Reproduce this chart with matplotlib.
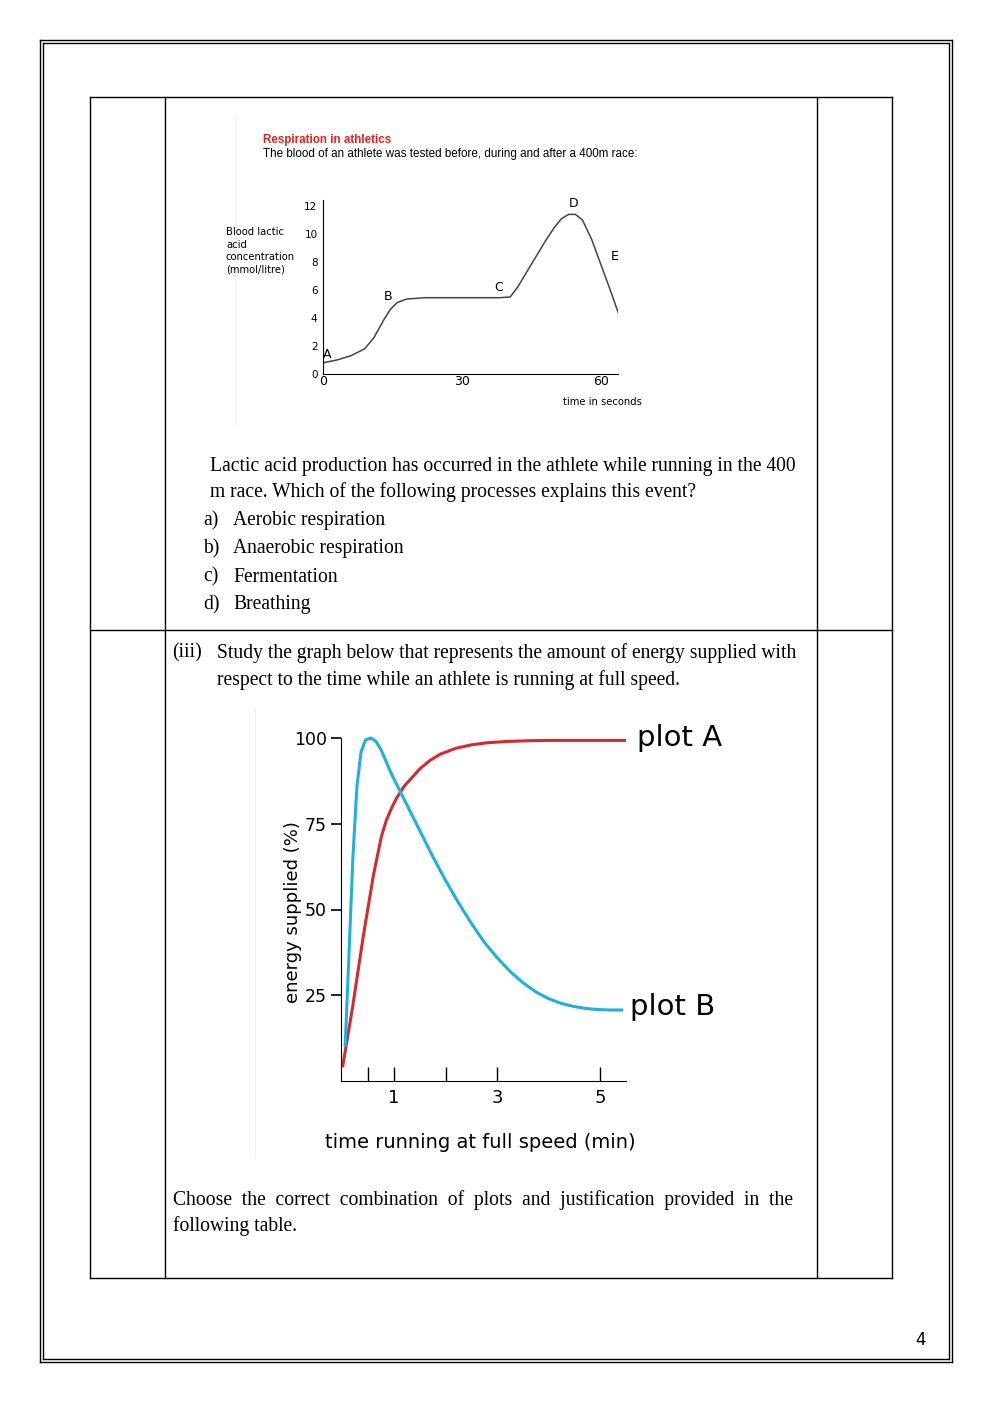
import matplotlib
matplotlib.use("Agg")
import matplotlib.pyplot as plt
from matplotlib.lines import Line2D

W, H = 992, 1403
# ---- data ----
lactic_t = [0, 3, 6, 9, 11, 13, 14.5, 16, 18, 22, 28, 34, 38, 40.4, 42, 44, 46, 48, 50, 51.5, 53, 54.5, 56, 58, 60, 62, 63.7]
lactic_v = [0.8, 1.0, 1.3, 1.8, 2.6, 3.8, 4.6, 5.1, 5.35, 5.45, 5.45, 5.45, 5.45, 5.5, 6.2, 7.3, 8.4, 9.5, 10.5, 11.1, 11.4, 11.4, 11.0, 9.6, 7.8, 6.0, 4.4]
lactic_ticks_y = [0, 2, 4, 6, 8, 10, 12]
lactic_ticks_x = [0, 30, 60]
points = {"A": (0.0, 1.4), "B": (14, 5.5), "C": (38, 6.2), "D": (54, 12.2), "E": (63, 8.4)}

planA_t = [0.0, 0.2, 0.4, 0.6, 0.75, 0.85, 0.95, 1.05, 1.2, 1.35, 1.5, 1.7, 1.9, 2.2, 2.5, 2.8, 3.2, 3.6, 4.0, 4.5, 5.0, 5.65]
planA_v = [4, 22, 42, 60, 71, 76, 79.5, 82.5, 86, 88.5, 91, 93.5, 95.3, 97, 98, 98.6, 99, 99.2, 99.3, 99.3, 99.3, 99.3]
planB_t = [0.05, 0.12, 0.2, 0.28, 0.36, 0.45, 0.55, 0.65, 0.75, 0.85, 0.95, 1.1, 1.3, 1.5, 1.75, 2.0, 2.25, 2.5, 2.75, 3.0, 3.25, 3.5, 3.75, 4.0, 4.25, 4.5, 4.75, 5.0, 5.2, 5.45]
planB_v = [10, 35, 65, 86, 96, 99.5, 100, 99, 96.5, 93, 89.5, 85, 79, 73, 65.5, 58.5, 52, 46, 40.5, 36, 32, 28.7, 26, 24, 22.6, 21.7, 21.1, 20.8, 20.7, 20.7]
energy_ticks_y = [25, 50, 75, 100]
energy_ticks_x = [0.5, 1, 2, 3, 5]
energy_labels_x = ["", "1", "", "3", "5"]

fig = plt.figure(figsize=(W/100, H/100), dpi=100)

def fx(x): return x / W
def fy(y): return 1 - y / H
def line(x0, y0, x1, y1, lw=1.0, c="black"):
    fig.add_artist(Line2D([fx(x0), fx(x1)], [fy(y0), fy(y1)], lw=lw, color=c, transform=fig.transFigure))
def T(x, y, s, **kw):
    kw.setdefault("va", "center")
    fig.text(fx(x), fy(y), s, **kw)

# page border (double)
for d in (0, 3):
    line(40+d, 40+d, 952-d, 40+d); line(40+d, 1362-d, 952-d, 1362-d)
    line(40+d, 40+d, 40+d, 1362-d); line(952-d, 40+d, 952-d, 1362-d)
# table
line(90, 97, 892, 97); line(90, 1278, 892, 1278); line(90, 630, 892, 630)
line(90, 97, 90, 1278); line(892, 97, 892, 1278)
line(165, 97, 165, 1278); line(817, 97, 817, 1278)
line(235, 115, 235, 425, lw=0.6, c="#eeeeee")
line(255, 708, 255, 1158, lw=0.6, c="#eeeeee")

serif = dict(family="Liberation Serif", fontsize=14.1)
T(210, 466, "Lactic acid production has occurred in the athlete while running in the 400", **serif)
T(210, 492, "m race. Which of the following processes explains this event?", **serif)
for i, (k, s) in enumerate([("a)", "Aerobic respiration"), ("b)", "Anaerobic respiration"),
                             ("c)", "Fermentation"), ("d)", "Breathing")]):
    T(203, 521 + 28*i, k, **serif); T(233, 521 + 28*i, s, **serif)
T(172, 653, "(iii)", **serif)
T(217, 653, "Study the graph below that represents the amount of energy supplied with", **serif)
T(217, 680, "respect to the time while an athlete is running at full speed.", **serif)
T(173, 1200, "Choose  the  correct  combination  of  plots  and  justification  provided  in  the", **serif)
T(173, 1226, "following table.", **serif)
T(920, 1340, "4", family="DejaVu Sans", fontsize=12, ha="center")

# ---- top chart ----
sans = "DejaVu Sans"
T(263, 140, "Respiration in athletics", color="#e8201c", fontweight="bold", family="Liberation Sans", fontsize=8.4)
T(263, 154, "The blood of an athlete was tested before, during and after a 400m race:", family="Liberation Sans", fontsize=8.4)
for i, s in enumerate(["Blood lactic", "acid", "concentration", "(mmol/litre)"]):
    T(226, 232 + 12.5*i, s, family=sans, fontsize=7.2)
T(563, 402, "time in seconds", family=sans, fontsize=7.2)

x0, x1, yb, yt = 323, 618, 374, 200
ax1 = fig.add_axes([fx(x0), fy(yb), (x1-x0)/W, (yb-yt)/H])
ax1.set_xlim(0, (x1-x0)/4.633); ax1.set_ylim(0, (yb-yt)/14.0)
ax1.plot(lactic_t, lactic_v, color="#444444", lw=1.1)
for s in ("top", "right"): ax1.spines[s].set_visible(False)
for s in ("left", "bottom"): ax1.spines[s].set_linewidth(0.8)
ax1.set_yticks(lactic_ticks_y); ax1.set_yticklabels([str(v) for v in lactic_ticks_y], fontsize=7.5, family=sans)
ax1.set_xticks(lactic_ticks_x); ax1.set_xticklabels([str(v) for v in lactic_ticks_x], fontsize=9, family=sans)
ax1.tick_params(length=0, pad=4)
ax1.tick_params(axis="x", pad=1)
ax1.patch.set_alpha(0)
for k, (px, py) in points.items():
    ax1.text(px, py, k, fontsize=9, family=sans, ha="left" if k == "A" else "center", va="center")

# ---- bottom chart ----
x0, x1, yb, yt = 341, 626, 1081, 735
ax2 = fig.add_axes([fx(x0), fy(yb), (x1-x0)/W, (yb-yt)/H])
ax2.set_xlim(-0.03, (x1-342.5)/51.5); ax2.set_ylim(0, (yb-yt)/3.43)
ax2.plot(planA_t, planA_v, color="#d62a2e", lw=2.2, solid_capstyle="butt")
ax2.plot(planB_t, planB_v, color="#1fb0e0", lw=2.2, solid_capstyle="butt")
for s in ("top", "right"): ax2.spines[s].set_visible(False)
ax2.spines["left"].set_bounds(0, 100)
ax2.set_yticks(energy_ticks_y); ax2.set_yticklabels([str(v) for v in energy_ticks_y], fontsize=12.5, family=sans)
ax2.set_xticks(energy_ticks_x); ax2.set_xticklabels(energy_labels_x, fontsize=13, family=sans)
ax2.tick_params(axis="y", direction="out", length=7, width=1.2, pad=3)
ax2.tick_params(axis="x", direction="in", length=10, width=1.0, pad=6)
ax2.patch.set_alpha(0)
T(637, 738, "plot A", family=sans, fontsize=21)
T(630, 1007, "plot B", family=sans, fontsize=21)
T(293, 912, "energy supplied (%)", family=sans, fontsize=13, rotation=90, ha="center")
T(480, 1143, "time running at full speed (min)", family=sans, fontsize=14, ha="center")

fig.savefig("out.png", dpi=100)
